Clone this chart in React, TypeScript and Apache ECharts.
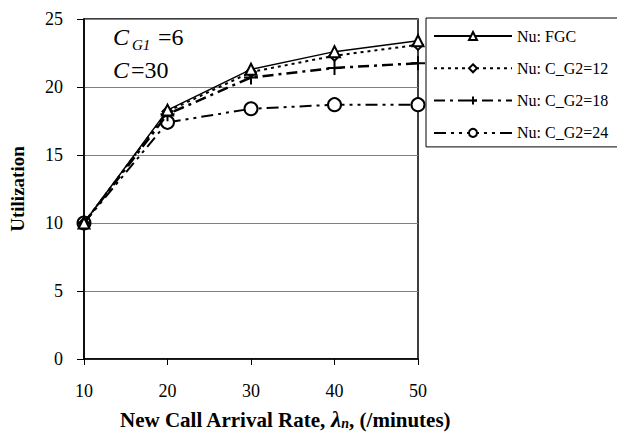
import React, { useEffect, useRef } from "react";
import * as echarts from "echarts";

const xValues = [10, 20, 30, 40, 50];
const seriesNames = ["Nu: FGC", "Nu: C_G2=12", "Nu: C_G2=18", "Nu: C_G2=24"];
const fgc = [10, 18.3, 21.3, 22.6, 23.4];
const cg12 = [10, 18.2, 21.1, 22.3, 23.1];
const cg18 = [10, 18.0, 20.7, 21.4, 21.75];
const cg24 = [10, 17.4, 18.4, 18.7, 18.7];
const yTicks = { min: 0, max: 25, interval: 5 };
const xTicks = { min: 10, max: 50, interval: 10 };

const FONT = "Times New Roman, Liberation Serif, serif";

function pairs(vals: number[]) {
  return xValues.map((x, i) => [x, vals[i]]);
}

function label(text: string, x: number, y: number, size: number, italic: boolean) {
  return {
    type: "text",
    x,
    y,
    style: {
      text,
      fontFamily: FONT,
      fontSize: size,
      fontStyle: italic ? "italic" : "normal",
      fill: "#000",
      align: "left",
      verticalAlign: "middle",
    },
  };
}

export default function App() {
  const ref = useRef<HTMLDivElement>(null);
  useEffect(() => {
    if (!ref.current) return;
    const chart = echarts.init(ref.current, undefined, { renderer: "svg" });
    const plusPath = "path://M5,0 L5,10 M0,5 L10,5";
    chart.setOption({
      animation: false,
      backgroundColor: "#fff",
      textStyle: { fontFamily: FONT },
      grid: {
        left: 84,
        right: 199,
        top: 19,
        bottom: 84,
        show: true,
        borderColor: "#000",
        borderWidth: 1.5,
        backgroundColor: "transparent",
      },
      legend: {
        orient: "vertical",
        left: 426,
        top: 18,
        itemWidth: 78,
        itemHeight: 10,
        itemGap: 16.3,
        padding: [10, 16, 6, 7],
        borderColor: "#000",
        borderWidth: 1,
        backgroundColor: "#fff",
        textStyle: { fontFamily: FONT, fontSize: 16, color: "#000" },
        data: seriesNames,
      },
      xAxis: {
        type: "value",
        min: xTicks.min,
        max: xTicks.max,
        interval: xTicks.interval,
        axisLine: { lineStyle: { color: "#000", width: 1.5 } },
        axisTick: { show: true, length: 6, lineStyle: { color: "#000", width: 1 } },
        axisLabel: { fontFamily: FONT, fontSize: 18, color: "#000", margin: 23 },
        splitLine: { show: false },
        nameLocation: "middle",
        nameGap: 49,
        name: "{b|New Call Arrival Rate, }{l|λ}{s|n}{b|, (/minutes)}",
        nameTextStyle: {
          padding: [0, 0, 0, 68],
          rich: {
            b: { fontFamily: FONT, fontSize: 21, fontWeight: "bold", color: "#000" },
            l: { fontFamily: FONT, fontSize: 23, fontWeight: "bold", fontStyle: "italic", color: "#000" },
            s: { fontFamily: FONT, fontSize: 14, fontWeight: "bold", fontStyle: "italic", color: "#000", padding: [8, 0, 0, 0] },
          },
        },
      },
      yAxis: {
        type: "value",
        min: yTicks.min,
        max: yTicks.max,
        interval: yTicks.interval,
        axisLine: { show: true, lineStyle: { color: "#000", width: 1.5 } },
        axisTick: { show: true, length: 7, lineStyle: { color: "#000", width: 1 } },
        axisLabel: { fontFamily: FONT, fontSize: 18, color: "#000", margin: 21 },
        splitLine: { show: true, lineStyle: { color: "#808080", width: 1 } },
        name: "Utilization",
        nameLocation: "middle",
        nameGap: 57,
        nameTextStyle: { fontFamily: FONT, fontSize: 19, fontWeight: "bold", color: "#000" },
      },
      graphic: [
        label("C", 113, 37, 24, true),
        label("G1", 132, 45, 15, true),
        label("=6", 158, 37, 24, false),
        label("C", 113, 70, 24, true),
        label("=30", 131, 70, 24, false),
      ],
      series: [
        {
          name: seriesNames[0],
          type: "line",
          data: pairs(fgc),
          symbol: "emptyTriangle",
          symbolSize: 11,
          color: "#000",
          lineStyle: { color: "#000", width: 1.5, type: "solid" },
          itemStyle: { color: "#000", borderWidth: 1.5 },
          z: 5,
        },
        {
          name: seriesNames[1],
          type: "line",
          data: pairs(cg12),
          symbol: "emptyDiamond",
          symbolSize: 10,
          color: "#000",
          lineStyle: { color: "#000", width: 2, type: [3, 4] },
          itemStyle: { color: "#000", borderWidth: 1.5 },
          z: 4,
        },
        {
          name: seriesNames[2],
          type: "line",
          data: pairs(cg18),
          symbol: plusPath,
          symbolSize: 14,
          color: "#000",
          lineStyle: { color: "#000", width: 2.5, type: [11, 5, 3, 5] },
          itemStyle: { color: "#000", borderColor: "#000", borderWidth: 2 },
          z: 3,
        },
        {
          name: seriesNames[3],
          type: "line",
          data: pairs(cg24),
          symbol: "emptyCircle",
          symbolSize: 13,
          color: "#000",
          lineStyle: { color: "#000", width: 2, type: [12, 5, 3, 5, 3, 5] },
          itemStyle: { color: "#000", borderWidth: 1.5 },
          z: 2,
        },
      ],
    });
    return () => chart.dispose();
  }, []);
  return (
    <div
      ref={ref}
      style={{ position: "fixed", left: 0, top: 0, width: 617, height: 443 }}
    />
  );
}
